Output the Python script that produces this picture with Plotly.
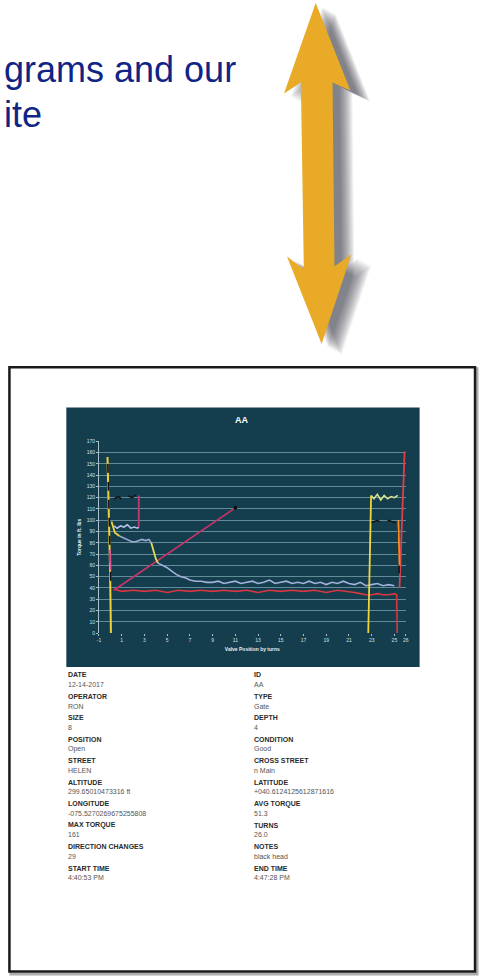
import plotly.graph_objects as go

# ---------------- chart data (turns vs torque) ----------------
yellow_left_x = [-0.25, -0.18, -0.1, -0.03, 0.02, 0.05]
yellow_left_y = [156, 130, 100, 60, 25, 0]

black_left_x = [-0.22, -0.15, -0.08, 0.0, 0.05]
black_left_y = [150, 125, 95, 62, 40]

pink_left_x = [-0.02, 0.02]
pink_left_y = [74, 56]

yellow_start_x = [0.1, 0.4, 0.8]
yellow_start_y = [99, 89, 86]

blue_upper_x = [0.3, 0.6, 0.9, 1.2, 1.5, 1.8, 2.1, 2.4, 2.5]
blue_upper_y = [95, 93, 95, 94, 96, 93, 94, 93, 94]

pink_step_x = [2.5, 2.5]
pink_step_y = [94, 122]

black_top_x = [0.3, 0.7, 1.1, 1.5, 1.9, 2.3, 2.5]
black_top_y = [119, 121, 118, 122, 120, 123, 121]

blue_lower_x = [0.8, 1.0, 1.3, 1.6, 1.9, 2.2, 2.5, 2.8, 3.1, 3.4, 3.6]
blue_lower_y = [86, 85, 84, 82, 81, 81, 82, 83, 82, 83, 80]

yellow_mid_x = [3.6, 3.8, 4.0, 4.2]
yellow_mid_y = [80, 73, 66, 62]

blue_tail_x = [4.2, 4.6, 5.0, 5.4, 5.8, 6.2, 6.6, 7.0, 7.5, 8.0, 8.5, 9.0, 9.5, 10.0,
               10.5, 11.0, 11.5, 12.0, 12.5, 13.0, 13.5, 14.0, 14.5, 15.0, 15.5, 16.0,
               16.5, 17.0, 17.5, 18.0, 18.5, 19.0, 19.5, 20.0, 20.5, 21.0, 21.5, 22.0,
               22.5, 23.0, 23.5, 24.0, 24.5, 25.0]
blue_tail_y = [62, 60, 58, 55, 52, 50, 49, 47, 46, 46, 45, 45, 46, 44,
               45, 46, 44, 45, 46, 44, 45, 47, 44, 45, 46, 44,
               45, 44, 46, 44, 45, 43, 45, 44, 46, 44, 43, 45,
               42, 43, 44, 42, 43, 42]

red_x = [0.3, 1, 2, 3, 4, 5, 6, 7, 8, 9, 10, 11, 12, 13, 14, 15, 16, 17, 18, 19, 20,
         21, 21.5, 22, 22.5, 23, 23.5, 24, 24.5, 25, 25.2, 25.25]
red_y = [39, 37, 38, 37, 38, 36, 38, 37, 38, 37, 38, 37, 38, 36, 38, 37, 38, 37, 38,
         36, 38, 37, 36, 35, 34, 34, 35, 34, 34, 35, 34, 0]

red_rise_x = [25.45, 25.6, 25.75, 25.9]
red_rise_y = [40, 80, 130, 161]

diag_x = [0.3, 11.0]
diag_y = [38, 111]

yellow_right_x = [22.7, 22.95]
yellow_right_y = [0, 122]

green_top_x = [22.95, 23.2, 23.5, 23.8, 24.1, 24.4, 24.7, 25.0, 25.3]
green_top_y = [122, 119, 123, 118, 122, 119, 121, 120, 122]

black_right_x = [23.0, 23.5, 24.0, 24.5, 25.0, 25.3, 25.35, 25.4, 25.45]
black_right_y = [98, 100, 97, 100, 98, 99, 80, 60, 45]

orange_right_x = [25.35, 25.45]
orange_right_y = [100, 60]

x_tick_vals = [-1, 1, 3, 5, 7, 9, 11, 13, 15, 17, 19, 21, 23, 25, 26]
y_tick_vals = list(range(0, 171, 10))

chart_title = "AA"
x_title = "Valve Position by turns"
y_title = "Torque in ft. lbs"

# ---------------- report fields ----------------
left_labels = ["DATE", "OPERATOR", "SIZE", "POSITION", "STREET", "ALTITUDE",
               "LONGITUDE", "MAX TORQUE", "DIRECTION CHANGES", "START TIME"]
left_values = ["12-14-2017", "RON", "8", "Open", "HELEN", "299.65010473316 ft",
               "-075.5270269675255808", "161", "29", "4:40:53 PM"]
right_labels = ["ID", "TYPE", "DEPTH", "CONDITION", "CROSS STREET", "LATITUDE",
                "AVG TORQUE", "TURNS", "NOTES", "END TIME"]
right_values = ["AA", "Gate", "4", "Good", "n Main", "+040.6124125612871616",
                "51.3", "26.0", "black head", "4:47:28 PM"]

heading_lines = ["grams and our", "ite"]

# ---------------- layout helpers ----------------
W, H = 481, 977
def px(x):
    return x / W
def py(y):
    return 1 - y / H

FONT = "Arial, Liberation Sans, sans-serif"

fig = go.Figure()

def line(x, y, color, width=1.6, dash=None):
    fig.add_trace(go.Scatter(x=x, y=y, mode="lines",
                             line=dict(color=color, width=width, dash=dash),
                             hoverinfo="skip", showlegend=False))

line(red_x, red_y, "#d9363f", 1.6)
line(red_rise_x, red_rise_y, "#e0404a", 1.8)
line(blue_tail_x, blue_tail_y, "#a3b2dc", 1.6)
line(blue_lower_x, blue_lower_y, "#98a9cf", 1.6)
line(blue_upper_x, blue_upper_y, "#b3c0ea", 1.6)
line(diag_x, diag_y, "#c8336a", 1.6)
line(pink_step_x, pink_step_y, "#c23a6e", 1.8)
line(black_top_x, black_top_y, "#111111", 1.4, "dash")
line(yellow_start_x, yellow_start_y, "#efd43c", 1.8)
line(yellow_mid_x, yellow_mid_y, "#e4dc50", 1.8)
line(yellow_left_x, yellow_left_y, "#f0d23a", 2.0)
line(black_left_x, black_left_y, "#111111", 1.6, "dash")
line(pink_left_x, pink_left_y, "#e0508a", 1.8)
line(yellow_right_x, yellow_right_y, "#efd43c", 1.8)
line(green_top_x, green_top_y, "#d6e38e", 1.6)
line(black_right_x, black_right_y, "#111111", 1.4, "dash")
line(orange_right_x, orange_right_y, "#ff8a1c", 1.8)
fig.add_trace(go.Scatter(x=[diag_x[-1]], y=[diag_y[-1]], mode="markers",
                         marker=dict(color="#111111", size=4),
                         hoverinfo="skip", showlegend=False))

# ---------------- decorative shapes ----------------
shapes = []
# document frame shadow + frame
shapes.append(dict(type="rect", xref="paper", yref="paper", layer="below",
                   x0=px(9), x1=px(480), y0=py(977), y1=py(368),
                   line=dict(color="rgba(120,120,120,0.6)", width=3), fillcolor="rgba(0,0,0,0)"))
shapes.append(dict(type="rect", xref="paper", yref="paper", layer="below",
                   x0=px(7.5), x1=px(478), y0=py(974.5), y1=py(366.5),
                   line=dict(color="#1a1a1a", width=2.5), fillcolor="white"))
# chart background
shapes.append(dict(type="rect", xref="paper", yref="paper", layer="below",
                   x0=px(65), x1=px(422), y0=py(668), y1=py(407),
                   line=dict(width=0), fillcolor="#143d4d"))

# arrow (pixel polygon)
arrow = [(317, 0), (352, 88), (334, 80), (336, 265), (353, 253), (323, 343),
         (288, 255), (305, 268), (302, 80), (285, 91)]
def path_of(pts, dx=0, dy=0):
    s = "M " + " L ".join(f"{px(x+dx):.5f},{py(y+dy):.5f}" for x, y in pts) + " Z"
    return s
for k in range(12):
    d = 20 - 1.2 * k
    shapes.append(dict(type="path", xref="paper", yref="paper", layer="below",
                       path=path_of(arrow, d, d * 0.55), fillcolor="rgba(60,60,66,0.075)",
                       line=dict(width=0)))
shapes.append(dict(type="path", xref="paper", yref="paper", layer="below",
                   path=path_of(arrow), fillcolor="#e9ab27", line=dict(width=0)))

# ---------------- annotations ----------------
ann = []
ann.append(dict(text=heading_lines[0], x=px(0), y=py(67), xref="paper", yref="paper",
                xanchor="left", yanchor="middle", showarrow=False,
                font=dict(family=FONT, size=36, color="#0f2484")))
ann.append(dict(text=heading_lines[1], x=px(0), y=py(112), xref="paper", yref="paper",
                xanchor="left", yanchor="middle", showarrow=False,
                font=dict(family=FONT, size=36, color="#0f2484")))
ann.append(dict(text=f"<b>{chart_title}</b>", x=px(243), y=py(420), xref="paper", yref="paper",
                xanchor="center", yanchor="middle", showarrow=False,
                font=dict(family=FONT, size=9, color="white")))

row0, step = 676, 21.6
for i in range(len(left_labels)):
    yl = row0 + i * step
    for xcol, lab, val in [(65, left_labels[i], left_values[i]), (253, right_labels[i], right_values[i])]:
        ann.append(dict(text=f"<b>{lab}</b>", x=px(xcol), y=py(yl), xref="paper", yref="paper",
                        xanchor="left", yanchor="middle", showarrow=False,
                        font=dict(family=FONT, size=7, color="#2a2a2a")))
        ann.append(dict(text=val, x=px(xcol), y=py(yl + 9.8), xref="paper", yref="paper",
                        xanchor="left", yanchor="middle", showarrow=False,
                        font=dict(family=FONT, size=7, color="#555555")))

fig.update_layout(
    width=W, height=H, margin=dict(l=0, r=0, t=0, b=0),
    paper_bgcolor="white", plot_bgcolor="rgba(0,0,0,0)",
    shapes=shapes, annotations=ann, showlegend=False,
    font=dict(family=FONT),
    xaxis=dict(domain=[px(98), px(408)], range=[-1, 26], tickvals=x_tick_vals,
               ticktext=[str(v) for v in x_tick_vals],
               showgrid=False, zeroline=False, showline=False,
               ticks="outside", ticklen=2, tickcolor="#a9c0cb",
               tickfont=dict(size=5, color="#d3e0e6"),
               title=dict(text=f"<b>{x_title}</b>", font=dict(size=5, color="#e6eef2"), standoff=5)),
    yaxis=dict(domain=[py(634), py(441)], range=[0, 170], tickvals=y_tick_vals,
               showgrid=True, gridcolor="rgba(150,190,205,0.6)", gridwidth=1,
               zeroline=False, showline=True, linecolor="#a9c0cb", linewidth=1,
               ticks="outside", ticklen=2, tickcolor="#a9c0cb",
               tickfont=dict(size=5, color="#d3e0e6"),
               title=dict(text=f"<b>{y_title}</b>", font=dict(size=5, color="#e6eef2"), standoff=4)),
)

fig.write_html("out.html")
